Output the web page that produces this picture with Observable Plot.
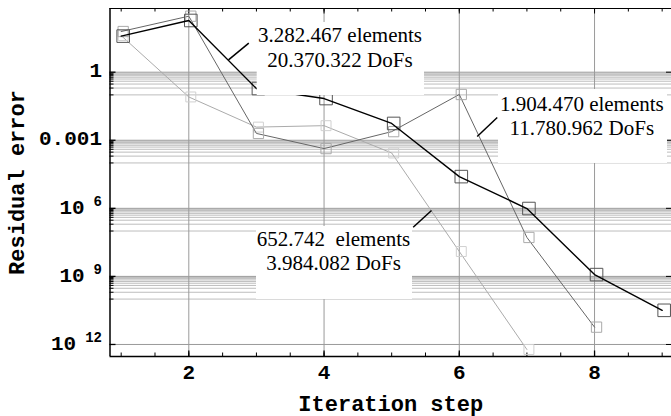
<!DOCTYPE html>
<html><head><meta charset="utf-8">
<script src="https://cdn.jsdelivr.net/npm/d3@7"></script>
<script src="https://cdn.jsdelivr.net/npm/@observablehq/plot@0.6"></script>
<style>body{margin:0;background:#fff}</style>
</head><body><div id="chart"></div>
<script>
// ---- data ----
const steps = [1, 2, 3, 4, 5, 6, 7, 8, 9];
const residualFine   = [39, 190, 0.19, 0.069, 0.0055, 2.5e-5, 9.8e-7, 1.2e-9, 3.2e-11]; // 3.282.467 elements
const residualMedium = [62, 294, 0.002, 4.3e-4, 0.0024, 0.104, 5.2e-8, 5.8e-12];       // 1.904.470 elements
const residualCoarse = [41, 0.081, 0.0038, 0.0044, 2.75e-4, 1.25e-8, 6e-13];            // 652.742 elements
const xTickLabels = [2, 4, 6, 8];
const xMinorTicks = [1, 1.5, 2, 2.5, 3, 3.5, 4, 4.5, 5, 5.5, 6, 6.5, 7, 7.5, 8, 8.5, 9];
const yTickValues = [1, 1e-3, 1e-6, 1e-9, 1e-12];
const yTickLabels = ["1", "0.001", "10 6", "10 9", "10 12"];
const gridDecades = [1, 1e-3, 1e-6, 1e-9];
const gridMultipliers = [0.1, 0.2, 0.3, 0.4, 0.5, 0.6, 0.7, 0.8, 0.9];
const annotationText = ["3.282.467 elements\n20.370.322 DoFs", "1.904.470 elements\n11.780.962 DoFs", "652.742\u00a0 elements\n3.984.082 DoFs"];
const annotationX = [4.236, 7.812, 4.140];
const annotationExp = [1.124, -1.886, -7.836];
const boxX1 = [3.0115, 6.580, 3.001];
const boxX2 = [5.4857, 9.079, 5.308];
const boxTopExp = [2.19, -0.762, -6.80];
const boxBottomExp = [-1.027, -4.023, -10.02];
const leaderX1 = [2.587, 6.265, 5.318];
const leaderX2 = [2.887, 6.561, 5.589];
const leaderExp1 = [0.546, -2.834, -6.831];
const leaderExp2 = [1.278, -1.996, -6.095];

// ---- tables ----
const fineRows = residualFine.map((v, i) => ({step: steps[i], value: v}));
const mediumRows = residualMedium.map((v, i) => ({step: steps[i], value: v}));
const coarseRows = residualCoarse.map((v, i) => ({step: steps[i], value: v}));
const minorGrid = gridDecades.flatMap(d => gridMultipliers.map(m => d * m));
const annotations = annotationText.map((t, i) => ({text: t, x: annotationX[i], y: 10 ** annotationExp[i]}));
const boxes = boxX1.map((x, i) => ({x1: x, x2: boxX2[i], y1: 10 ** boxBottomExp[i], y2: 10 ** boxTopExp[i]}));
const leaders = leaderX1.map((x, i) => ({x1: x, x2: leaderX2[i], y1: 10 ** leaderExp1[i], y2: 10 ** leaderExp2[i]}));
const yLabelOf = new Map(yTickValues.map((v, i) => [v, yTickLabels[i]]));

const W = 671, H = 416, mL = 109.5, mR = 0, mT = 8, mB = 60;
const plotW = W - mL - mR, plotH = H - mT - mB;
const xDomain = [0.8347, 9.138];
const yDomain = [10 ** -12.53, 10 ** 2.807];

const chart = Plot.plot({
  width: W, height: H,
  marginLeft: mL, marginRight: mR, marginTop: mT, marginBottom: mB,
  style: {fontFamily: "'Liberation Mono', monospace", fontWeight: "bold", background: "white", overflow: "visible", color: "black"},
  x: {domain: xDomain},
  y: {type: "log", domain: yDomain},
  marks: [
    // grid
    Plot.ruleY(minorGrid, {stroke: "#bdbdbd", strokeWidth: 1}),
    Plot.ruleY(yTickValues, {stroke: "#9a9a9a", strokeWidth: 1}),
    Plot.ruleX(xTickLabels, {stroke: "#9a9a9a", strokeWidth: 1}),
    // ticks (inward)
    Plot.ruleY(minorGrid, {insetRight: plotW - 4, stroke: "black"}),
    Plot.ruleY(yTickValues, {insetRight: plotW - 6, stroke: "black", strokeWidth: 1.3}),
    Plot.ruleY(yTickValues, {insetLeft: plotW - 5, stroke: "black"}),
    Plot.ruleX(xMinorTicks, {insetTop: plotH - 3.5, stroke: "black"}),
    Plot.ruleX(xTickLabels, {insetTop: plotH - 5.5, stroke: "black", strokeWidth: 1.3}),
    Plot.ruleX(xMinorTicks, {insetBottom: plotH - 3.5, stroke: "black"}),
    Plot.ruleX(xTickLabels, {insetBottom: plotH - 5.5, stroke: "black"}),
    // frame
    Plot.ruleX([xDomain[0]], {stroke: "black", strokeWidth: 1.5}),
    Plot.ruleY([yDomain[0]], {stroke: "black", strokeWidth: 1.5}),
    Plot.ruleY([yDomain[1]], {stroke: "black", strokeWidth: 1.2}),
    // series
    Plot.line(coarseRows, {x: "step", y: "value", stroke: "#ababab", strokeWidth: 1}),
    Plot.dot(coarseRows, {x: "step", y: "value", symbol: "square", r: 5.6, stroke: "#d0d0d0", fill: "none", strokeWidth: 1, dx: 2}),
    Plot.line(mediumRows, {x: "step", y: "value", stroke: "#666", strokeWidth: 1}),
    Plot.dot(mediumRows, {x: "step", y: "value", symbol: "square", r: 5.8, stroke: "#aaa", fill: "none", strokeWidth: 1, dx: 2}),
    Plot.dot(fineRows, {x: "step", y: "value", symbol: "square", r: 7.1, stroke: "#555", fill: "none", strokeWidth: 1, dx: 2}),
    Plot.line(fineRows, {x: "step", y: "value", stroke: "black", strokeWidth: 1.4}),
    // annotations
    Plot.rect(boxes, {x1: "x1", x2: "x2", y1: "y1", y2: "y2", fill: "white"}),
    Plot.link(leaders, {x1: "x1", y1: "y1", x2: "x2", y2: "y2", stroke: "black", strokeWidth: 1.5}),
    Plot.text(annotations, {x: "x", y: "y", text: "text", fontFamily: "'Liberation Serif', 'Times New Roman', serif", fontWeight: "normal", fontSize: 21, lineHeight: 1.19, fill: "black"}),
    // axes
    Plot.axisX(xTickLabels, {anchor: "bottom", tickSize: 0, tickPadding: 7.5, fontSize: 21, label: null, tickFormat: d => String(d)}),
    Plot.axisY(yTickValues, {anchor: "left", tickSize: 0, tickPadding: 8, fontSize: 21, label: null, tickFormat: d => yLabelOf.get(d), dy: -1.5}),
    Plot.text(["Iteration step"], {frameAnchor: "bottom", textAnchor: "middle", lineAnchor: "bottom", dy: 54, fontSize: 22, fill: "black"}),
    Plot.text(["Residual error"], {frameAnchor: "left", textAnchor: "middle", lineAnchor: "bottom", rotate: -90, dx: -86, fontSize: 22, fill: "black"})
  ]
});

// superscript exponents on the y tick labels
const NS = "http://www.w3.org/2000/svg";
chart.querySelectorAll('[aria-label="y-axis tick label"] text').forEach(t => {
  const m = /^10 (\d+)$/.exec(t.textContent);
  if (m) {
    t.textContent = "";
    const a = document.createElementNS(NS, "tspan");
    a.textContent = "10";
    const b = document.createElementNS(NS, "tspan");
    b.textContent = m[1];
    b.setAttribute("font-size", "14");
    b.setAttribute("dx", "9");
    b.setAttribute("dy", "-8");
    t.append(a, b);
  }
});
document.getElementById("chart").append(chart);
</script>
</body></html>
